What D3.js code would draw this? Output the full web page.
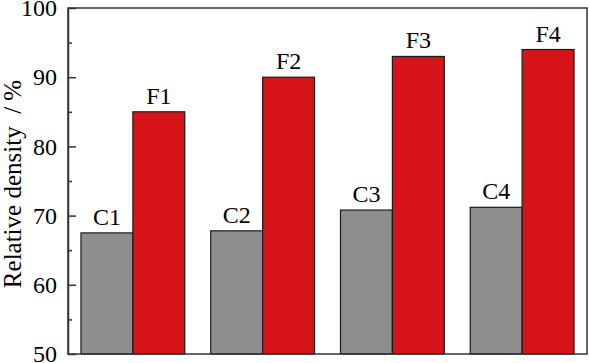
<!DOCTYPE html>
<html><head><meta charset="utf-8">
<script src="https://cdn.jsdelivr.net/npm/d3@7"></script>
<style>body{margin:0;background:#fff}svg{display:block}text{font-family:"Liberation Serif","Times New Roman",serif}</style>
</head><body>
<script>
const groups = ["1","2","3","4"];
const cLabels = ["C1","C2","C3","C4"];
const fLabels = ["F1","F2","F3","F4"];
const cValues = [67.5, 67.8, 70.8, 71.2];
const fValues = [85, 90, 93, 94];
const yTicks = [50, 60, 70, 80, 90, 100];
const yMinor = [55, 65, 75, 85, 95];

const W = 589, H = 363;
const m = {left: 68, right: 2, top: 8, bottom: 9};
const svg = d3.select("body").append("svg").attr("width", W).attr("height", H);
const x = d3.scaleBand().domain(groups).range([m.left, W - m.right]).paddingInner(0.2).paddingOuter(0.1);
const y = d3.scaleLinear().domain([50, 100]).range([H - m.bottom, m.top]);
const bw = x.bandwidth() / 2;
const font = "Liberation Serif";
const fs = "24px";

const data = groups.map((g, i) => ({g, c: cValues[i], f: fValues[i], cl: cLabels[i], fl: fLabels[i]}));

svg.selectAll(".cbar").data(data).enter().append("rect")
  .attr("x", d => x(d.g)).attr("width", bw)
  .attr("y", d => y(d.c)).attr("height", d => y(50) - y(d.c))
  .attr("fill", "#8e8e8e").attr("stroke", "#1a1a1a").attr("stroke-width", 1.2);
svg.selectAll(".fbar").data(data).enter().append("rect")
  .attr("x", d => x(d.g) + bw).attr("width", bw)
  .attr("y", d => y(d.f)).attr("height", d => y(50) - y(d.f))
  .attr("fill", "#d7141a").attr("stroke", "#1a1a1a").attr("stroke-width", 1.2);

svg.selectAll(".clab").data(data).enter().append("text")
  .attr("x", d => x(d.g) + bw / 2).attr("y", d => y(d.c) - 8)
  .attr("text-anchor", "middle").attr("font-family", font).attr("font-size", fs).text(d => d.cl);
svg.selectAll(".flab").data(data).enter().append("text")
  .attr("x", d => x(d.g) + bw * 1.5).attr("y", d => y(d.f) - 8)
  .attr("text-anchor", "middle").attr("font-family", font).attr("font-size", fs).text(d => d.fl);

// frame
svg.append("rect").attr("x", m.left).attr("y", m.top)
  .attr("width", W - m.right - m.left).attr("height", H - m.bottom - m.top)
  .attr("fill", "none").attr("stroke", "#333").attr("stroke-width", 1.5);

const ax = svg.append("g").attr("transform", `translate(${m.left},0)`)
  .call(d3.axisLeft(y).tickValues(yTicks).tickSizeInner(-8).tickSizeOuter(0).tickPadding(11).tickFormat(d3.format("d")))
  .attr("font-family", font).attr("font-size", fs);
ax.select(".domain").attr("stroke", "#333").attr("stroke-width", 1.5);
ax.selectAll(".tick line").attr("stroke", "#333").attr("stroke-width", 1.5);
ax.selectAll("text").attr("fill", "#000");
svg.append("g").attr("transform", `translate(${m.left},0)`)
  .call(d3.axisLeft(y).tickValues(yMinor).tickSize(-4).tickFormat(""))
  .call(g => g.select(".domain").remove())
  .selectAll("line").attr("stroke", "#333").attr("stroke-width", 1.5);

svg.append("text").attr("transform", `translate(21,${(m.top + H - m.bottom) / 2 + 3}) rotate(-90)`)
  .attr("text-anchor", "middle").attr("font-family", font).attr("font-size", "25px")
  .attr("xml:space", "preserve").text("Relative density  / %");
</script>
</body></html>
